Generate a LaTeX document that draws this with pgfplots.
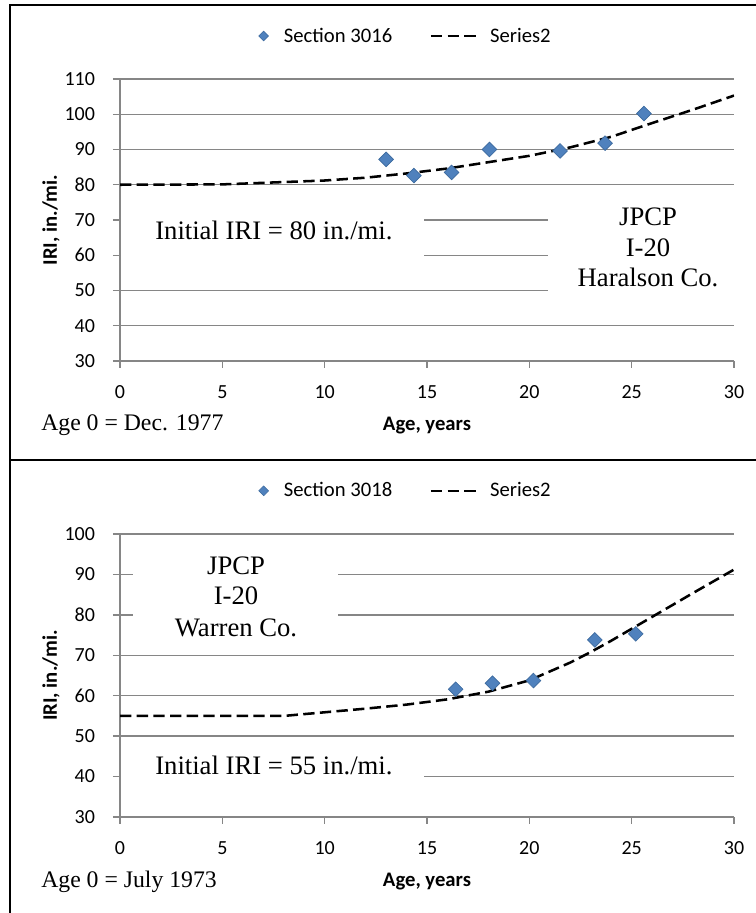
\documentclass[border=0pt]{standalone}
\usepackage{fontspec}
\setmainfont{Carlito}
\newfontfamily\tnr{Liberation Serif}
\usepackage{pgfplots}
\pgfplotsset{compat=1.18}
\definecolor{gridc}{HTML}{868686}
\definecolor{mfill}{HTML}{4F81BD}
\definecolor{medge}{HTML}{3C6A9E}
\newcommand{\tkfont}{\fontsize{15}{18}\selectfont}

\pgfplotsset{
  excel/.style={
    scale only axis, width=460.5pt,
    xmin=0, xmax=30, xtick={0,5,...,30},
    xticklabels={0,5,10,15,20,25,30},
    axis x line*=bottom, axis y line*=left,
    axis line style={gridc, line width=1pt},
    ymajorgrids, grid style={gridc, line width=1pt},
    tick align=outside, major tick length=5.25pt,
    tick style={gridc, line width=1pt},
    xticklabel style={font=\tkfont, yshift=-9.5pt, text=black},
    yticklabel style={font=\tkfont, xshift=-10pt, text=black},
    xlabel={Age, years}, ylabel={IRI, in./mi.},
    label style={font=\fontsize{15.5}{18}\selectfont\bfseries},
    xlabel style={at={(axis description cs:0.5,-0.245)}, anchor=base},
    ylabel style={at={(axis description cs:-0.1124,0.5)}, anchor=center},
    legend columns=2,
    legend style={draw=none, fill=none, at={(axis description cs:0.4653,1.1525)}, anchor=center,
      font=\fontsize{15.5}{18}\selectfont,
      /tikz/every even column/.append style={column sep=26pt}},
  },
  ptsty/.style={only marks, mark=square*, mark size=3.9pt,
    mark options={rotate=45, fill=mfill, draw=medge, line width=0.5pt},
    legend image code/.code={\path (0pt,0pt) (17pt,0pt);
      \draw[only marks, mark=square*, mark size=2.6pt, mark options={rotate=45, fill=mfill, draw=medge, line width=0.4pt}] plot coordinates {(4pt,0pt)};}},
  crvsty/.style={black, line width=1.9pt, dash pattern=on 8.5pt off 4pt,
    legend image code/.code={\path (0pt,0pt) (41.5pt,0pt);
      \draw[black, line width=1.9pt, dash pattern=on 8.5pt off 4pt] (0pt,0pt) -- (34.5pt,0pt);}},
}

\begin{document}
\begin{tikzpicture}
\useasboundingbox (0,0) rectangle (567pt,684.75pt);

% ---------- top panel ----------
\begin{axis}[excel, height=211.5pt, ymin=30, ymax=110, ytick={30,40,...,110},
  yticklabels={30,40,50,60,70,80,90,100,110},
  at={(90pt,414pt)}, anchor=south west]
  \fill[white] (axis cs:0.05,77) rectangle (axis cs:14.85,55);
  \fill[white] (axis cs:20.9,77) rectangle (axis cs:30,43);
  \addplot[ptsty] coordinates {
    (13.0,87.2) (14.36,82.6) (16.2,83.5) (18.05,90.0) (21.5,89.6) (23.7,91.8) (25.6,100.2)};
  \addlegendentry{Section 3016}
  \addplot[crvsty] coordinates {
    (0,80) (5,80.1) (10,81.2) (12,82.0) (14,83.2) (16,84.6) (18,86.4) (20,88.2)
    (22,90.6) (24,93.6) (26,97.5) (28,101.3) (30,105.3)};
  \addlegendentry{Series2}
  \node[font=\tnr\fontsize{20}{24}\selectfont, anchor=base] at (axis cs:7.52,64.4) {Initial IRI = 80 in./mi.};
  \node[font=\tnr\fontsize{20}{24}\selectfont, anchor=base] at (axis cs:25.8,68.3) {JPCP};
  \node[font=\tnr\fontsize{20}{24}\selectfont, anchor=base] at (axis cs:25.8,59.6) {I-20};
  \node[font=\tnr\fontsize{20}{24}\selectfont, anchor=base] at (axis cs:25.8,51.1) {Haralson Co.};
\end{axis}

% ---------- bottom panel ----------
\begin{axis}[excel, height=212.25pt, ymin=30, ymax=100, ytick={30,40,...,100},
  yticklabels={30,40,50,60,70,80,90,100},
  at={(90pt,72pt)}, anchor=south west]
  \fill[white] (axis cs:0.63,94) rectangle (axis cs:10.65,74);
  \fill[white] (axis cs:0.05,45) rectangle (axis cs:14.85,35);
  \addplot[ptsty] coordinates {
    (16.4,61.6) (18.2,63.1) (20.2,63.75) (23.2,73.8) (25.2,75.3)};
  \addlegendentry{Section 3018}
  \addplot[crvsty] coordinates {
    (0,55) (5,55) (8,55) (10,55.9) (12,56.8) (14,57.8) (16,59.1) (18,61.0)
    (20,63.8) (22,68.2) (23,70.8) (24,73.6) (26,79.5) (28,85.4) (30,91.2)};
  \addlegendentry{Series2}
  \node[font=\tnr\fontsize{20}{24}\selectfont, anchor=base] at (axis cs:7.52,40.56) {Initial IRI = 55 in./mi.};
  \node[font=\tnr\fontsize{20}{24}\selectfont, anchor=base] at (axis cs:5.67,89.86) {JPCP};
  \node[font=\tnr\fontsize{20}{24}\selectfont, anchor=base] at (axis cs:5.67,82.44) {I-20};
  \node[font=\tnr\fontsize{20}{24}\selectfont, anchor=base] at (axis cs:5.67,74.6) {Warren Co.};
\end{axis}

\node[anchor=base west, inner sep=0pt, font=\tnr\fontsize{17.8}{20}\selectfont] at (30.75pt,361.5pt) {Age 0 = Dec. 1977};
\node[anchor=base west, inner sep=0pt, font=\tnr\fontsize{17.8}{20}\selectfont] at (30.75pt,19.5pt) {Age 0 = July 1973};

\draw[line width=1.5pt] (567pt,681pt) -- (7.5pt,681pt) -- (7.5pt,0pt);
\draw[line width=1.5pt] (7.5pt,339.75pt) -- (567pt,339.75pt);
\end{tikzpicture}
\end{document}
